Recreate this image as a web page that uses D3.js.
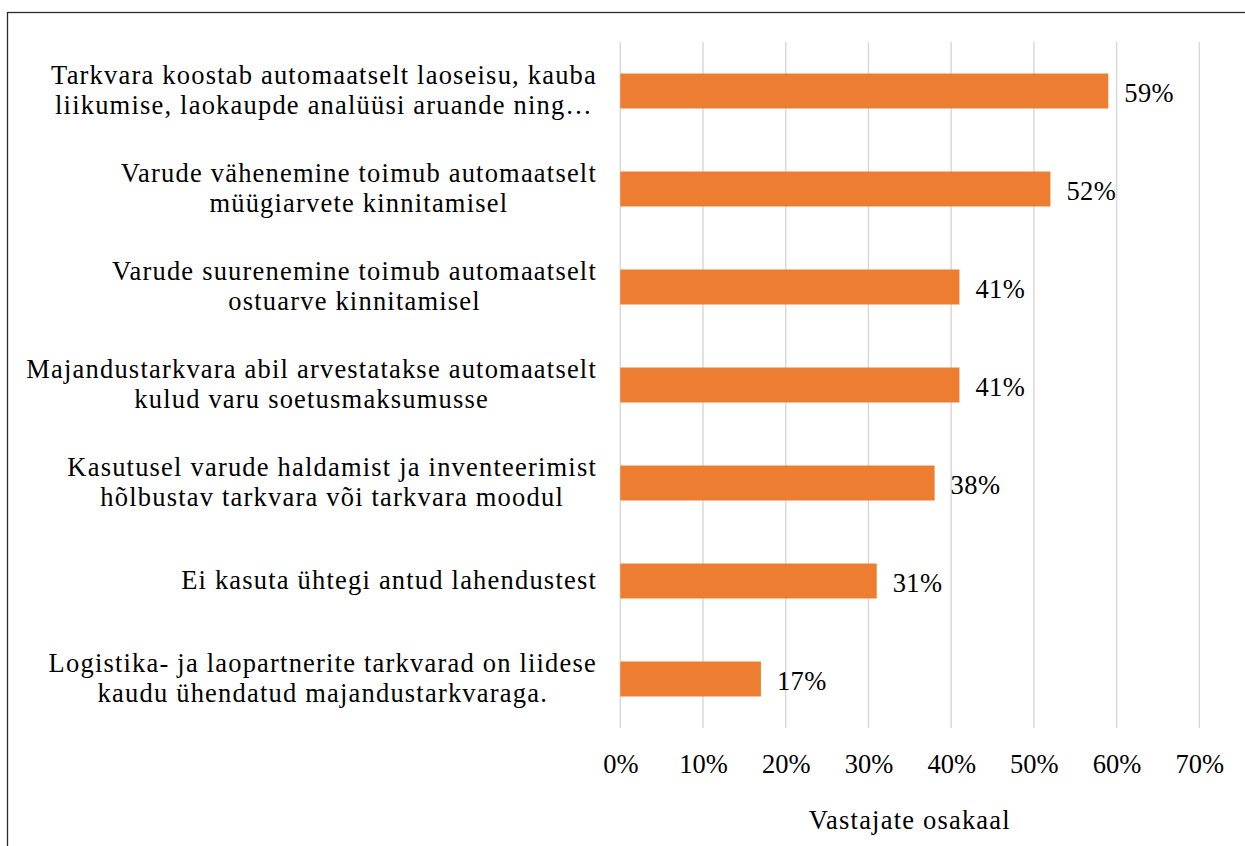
<!DOCTYPE html>
<html>
<head>
<meta charset="utf-8">
<script src="https://cdn.jsdelivr.net/npm/d3@7"></script>
<style>
  html, body { margin: 0; padding: 0; background: #fff; }
  svg { display: block; }
  text { font-family: "Liberation Serif", "Times New Roman", serif; fill: #000; }
</style>
</head>
<body>
<svg id="chart" width="1245" height="846"></svg>
<script>
// Survey answers: share of respondents per inventory-software feature
const categories = [
  ["Tarkvara koostab automaatselt laoseisu, kauba", "liikumise, laokaupde analüüsi aruande ning…"],
  ["Varude vähenemine toimub automaatselt", "müügiarvete kinnitamisel"],
  ["Varude suurenemine toimub automaatselt", "ostuarve kinnitamisel"],
  ["Majandustarkvara abil arvestatakse automaatselt", "kulud varu soetusmaksumusse"],
  ["Kasutusel varude haldamist ja inventeerimist", "hõlbustav tarkvara või tarkvara moodul"],
  ["Ei kasuta ühtegi antud lahendustest"],
  ["Logistika- ja laopartnerite tarkvarad on liidese", "kaudu ühendatud majandustarkvaraga."]
];
const values = [0.59, 0.52, 0.41, 0.41, 0.38, 0.31, 0.17];
const tickValues = [0, 0.1, 0.2, 0.3, 0.4, 0.5, 0.6, 0.7];
const axisTitle = "Vastajate osakaal";

const svg = d3.select("#chart");
const fontSize = 26.5;
const lineGap = 30;

// outer chart frame (runs past the right and bottom edges)
svg.append("rect")
  .attr("x", 7.5).attr("y", 12.5)
  .attr("width", 1300).attr("height", 900)
  .attr("fill", "none").attr("stroke", "#2b2b2b").attr("stroke-width", 1.3);

const plot = { left: 620.3, right: 1199.3, top: 42, bottom: 728 };

const x = d3.scaleLinear().domain([0, 0.7]).range([plot.left, plot.right]);
const y = d3.scaleBand()
  .domain(d3.range(categories.length))
  .range([plot.top, plot.bottom])
  .paddingInner(0.643).paddingOuter(0.3215);

// vertical gridlines
svg.append("g").selectAll("line")
  .data(tickValues)
  .join("line")
  .attr("x1", d => x(d)).attr("x2", d => x(d))
  .attr("y1", plot.top).attr("y2", plot.bottom)
  .attr("stroke", "#d9d9d9").attr("stroke-width", 1.5);

// bars
svg.append("g").selectAll("rect")
  .data(values)
  .join("rect")
  .attr("x", x(0))
  .attr("y", (d, i) => y(i))
  .attr("width", d => x(d) - x(0))
  .attr("height", y.bandwidth())
  .attr("fill", "#ed7d31");

const pct = d3.format(".0%");

// value labels
svg.append("g").selectAll("text")
  .data(values)
  .join("text")
  .attr("x", d => x(d) + 16)
  .attr("y", (d, i) => y(i) + y.bandwidth() / 2 + 11)
  .attr("font-size", fontSize)
  .attr("letter-spacing", 0.4)
  .text(d => pct(d));

// x-axis tick labels
const xAxis = d3.axisBottom(x).tickValues(tickValues).tickFormat(pct).tickSize(0).tickPadding(0);
const gx = svg.append("g").attr("transform", `translate(0,${plot.bottom})`).call(xAxis);
gx.select(".domain").remove();
gx.selectAll("text")
  .attr("font-size", fontSize)
  .attr("font-family", "Liberation Serif, Times New Roman, serif")
  .attr("fill", "#000")
  .attr("dy", null)
  .attr("y", 45);

// category labels: multi-line, centred lines, block right-aligned to the axis
const labelRight = 597;
const cat = svg.append("g");
categories.forEach((lines, i) => {
  const g = cat.append("g");
  const cy = y(i) + y.bandwidth() / 2;
  const t = g.selectAll("text").data(lines).join("text")
    .attr("font-size", fontSize)
    .attr("letter-spacing", 1.2)
    .attr("text-anchor", "middle")
    .attr("y", (d, k) => cy + 8 + (k - (lines.length - 1) / 2) * lineGap)
    .text(d => d);
  let w = 0;
  t.each(function () { w = Math.max(w, this.getComputedTextLength()); });
  t.attr("x", labelRight - w / 2);
});

// axis title
svg.append("text")
  .attr("x", (plot.left + plot.right) / 2)
  .attr("y", 829)
  .attr("text-anchor", "middle")
  .attr("font-size", fontSize)
  .attr("letter-spacing", 1.2)
  .text(axisTitle);
</script>
</body>
</html>
